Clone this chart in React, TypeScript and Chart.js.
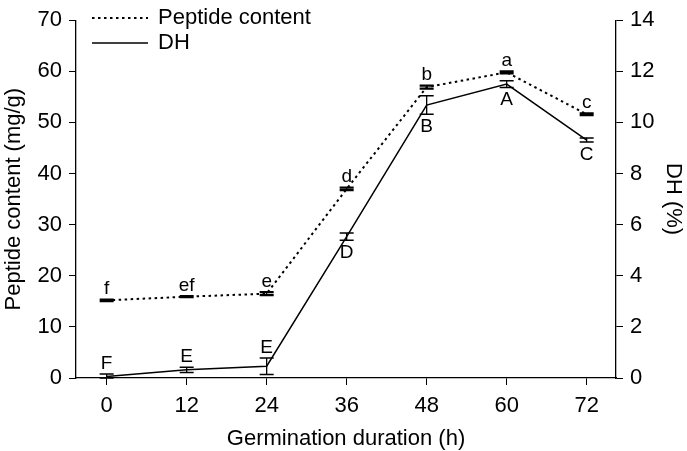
import React, { useEffect, useRef } from "react";
import { Chart, registerables } from "chart.js";

Chart.register(...registerables);

const hours = [0, 12, 24, 36, 48, 60, 72];
const peptide = [15.2, 15.9, 16.5, 37.0, 56.9, 59.8, 51.6];
const peptideErr = [0.15, 0.1, 0.3, 0.25, 0.3, 0.2, 0.2];
const dh = [0.06, 0.32, 0.46, 5.53, 10.68, 11.5, 9.31];
const dhErr = [0.1, 0.1, 0.32, 0.14, 0.36, 0.13, 0.08];
const peptideLetters = ["f", "ef", "e", "d", "b", "a", "c"];
const dhLetters = ["F", "E", "E", "D", "B", "A", "C"];
const dhLetterBelow = [false, false, false, true, true, true, true];
const leftTicks = [0, 10, 20, 30, 40, 50, 60, 70];
const rightTicks = [0, 2, 4, 6, 8, 10, 12, 14];

const FONT = "'Liberation Sans', Arial, Helvetica, sans-serif";

const errorPlugin = {
  id: "errorBarsLetters",
  afterDatasetsDraw(chart: any) {
    const ctx = chart.ctx;
    const xs = chart.scales.x;
    const sets = [
      { vals: peptide, errs: peptideErr, scale: chart.scales.y, letters: peptideLetters, below: hours.map(() => false), capW: 2.2 },
      { vals: dh, errs: dhErr, scale: chart.scales.y1, letters: dhLetters, below: dhLetterBelow, capW: 1.5 },
    ];
    ctx.save();
    ctx.strokeStyle = "#000";
    ctx.fillStyle = "#000";
    ctx.font = `19px ${FONT}`;
    ctx.textAlign = "center";
    for (const s of sets) {
      for (let i = 0; i < hours.length; i++) {
        const x = xs.getPixelForValue(hours[i]);
        const yt = s.scale.getPixelForValue(s.vals[i] + s.errs[i]);
        const yb = s.scale.getPixelForValue(Math.max(0, s.vals[i] - s.errs[i]));
        ctx.lineWidth = 1.3;
        ctx.beginPath();
        ctx.moveTo(x, yt);
        ctx.lineTo(x, yb);
        ctx.stroke();
        ctx.lineWidth = s.capW;
        ctx.beginPath();
        ctx.moveTo(x - 7, yt);
        ctx.lineTo(x + 7, yt);
        ctx.moveTo(x - 7, yb);
        ctx.lineTo(x + 7, yb);
        ctx.stroke();
        if (s.below[i]) {
          ctx.textBaseline = "top";
          ctx.fillText(s.letters[i], x, yb + 3);
        } else {
          ctx.textBaseline = "bottom";
          ctx.fillText(s.letters[i], x, yt - 1);
        }
      }
    }
    // legend
    const lx0 = 92, lx1 = 148;
    ctx.lineWidth = 2;
    ctx.setLineDash([2.5, 3.5]);
    ctx.beginPath();
    ctx.moveTo(lx0, 18);
    ctx.lineTo(lx1, 18);
    ctx.stroke();
    ctx.setLineDash([]);
    ctx.lineWidth = 1.5;
    ctx.beginPath();
    ctx.moveTo(lx0, 43);
    ctx.lineTo(lx1, 43);
    ctx.stroke();
    ctx.font = `22px ${FONT}`;
    ctx.textAlign = "left";
    ctx.textBaseline = "middle";
    ctx.fillText("Peptide content", 158, 18);
    ctx.fillText("DH", 158, 43);
    ctx.restore();
  },
};

export default function App() {
  const ref = useRef<HTMLCanvasElement | null>(null);
  useEffect(() => {
    document.body.style.margin = "0";
    const c = ref.current!;
    const tickFont = { family: FONT, size: 22 };
    const chart = new Chart(c, {
      type: "line",
      data: {
        datasets: [
          {
            label: "Peptide content",
            data: hours.map((h, i) => ({ x: h, y: peptide[i] })),
            yAxisID: "y",
            borderColor: "#000",
            borderWidth: 2,
            borderDash: [2.5, 3.5],
            pointRadius: 0,
            fill: false,
          },
          {
            label: "DH",
            data: hours.map((h, i) => ({ x: h, y: dh[i] })),
            yAxisID: "y1",
            borderColor: "#000",
            borderWidth: 1.5,
            pointRadius: 0,
            fill: false,
          },
        ],
      },
      options: {
        responsive: false,
        animation: false,
        layout: { padding: { top: 10, left: 0, right: 0, bottom: 0 } },
        plugins: { legend: { display: false }, tooltip: { enabled: false } },
        scales: {
          x: {
            type: "linear",
            min: -4.6,
            max: 76.4,
            afterBuildTicks: (s: any) => {
              s.ticks = hours.map((v) => ({ value: v }));
            },
            afterFit: (s: any) => {
              s.height = 73;
            },
            grid: { drawOnChartArea: false, color: "#000", tickLength: 7 },
            border: { color: "#000", width: 1.3 },
            ticks: { color: "#000", font: tickFont, padding: 8, maxRotation: 0 },
            title: { display: true, text: "Germination duration (h)", color: "#000", font: tickFont, padding: { top: 0, bottom: -1 } },
          },
          y: {
            position: "left",
            min: 0,
            max: 70,
            afterBuildTicks: (s: any) => {
              s.ticks = leftTicks.map((v) => ({ value: v }));
            },
            afterFit: (s: any) => {
              s.width = 76;
            },
            grid: { drawOnChartArea: false, color: "#000", tickLength: 7 },
            border: { color: "#000", width: 1.3 },
            ticks: { color: "#000", font: tickFont, padding: 7 },
            title: { display: true, text: "Peptide content (mg/g)", color: "#000", font: tickFont, padding: 1 },
          },
          y1: {
            position: "right",
            min: 0,
            max: 14,
            afterBuildTicks: (s: any) => {
              s.ticks = rightTicks.map((v) => ({ value: v }));
            },
            afterFit: (s: any) => {
              s.width = 71;
            },
            grid: { drawOnChartArea: false, color: "#000", tickLength: 7 },
            border: { color: "#000", width: 1.3 },
            ticks: { color: "#000", font: tickFont, padding: 7 },
            title: { display: true, text: "DH (%)", color: "#000", font: tickFont, padding: 1 },
          },
        },
      },
      plugins: [errorPlugin],
    } as any);
    return () => chart.destroy();
  }, []);
  return <canvas ref={ref} width={687} height={451} style={{ display: "block" }} />;
}
